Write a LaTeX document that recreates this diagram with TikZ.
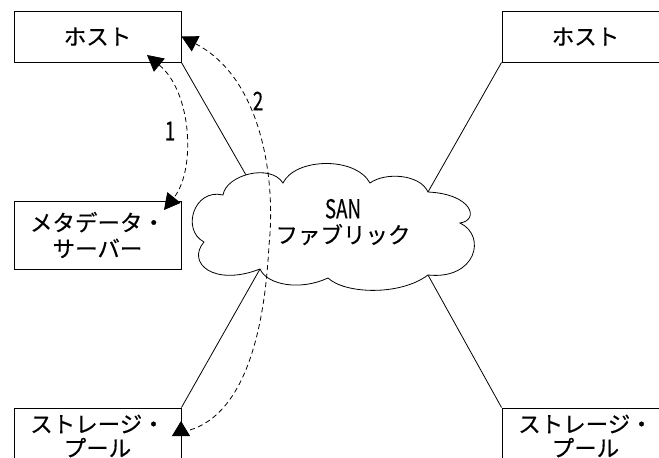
\documentclass[tikz,border=0pt]{standalone}
\usepackage{fontspec}
\setmainfont{Noto Sans CJK JP}[FakeBold=0.4]
\usetikzlibrary{arrows.meta}

\tikzset{
  box/.style={draw, line width=0.9pt, minimum width=167pt, inner sep=0pt,
              align=center, font=\fontsize{22.5}{25}\selectfont},
  link/.style={line width=0.8pt},
  msg/.style={line width=0.8pt, dash pattern=on 5pt off 3.5pt},
  head/.style={line width=0.8pt, solid},
  num/.style={font=\fontsize{26}{26}\selectfont},
}
\newcommand{\narrow}[1]{\scalebox{0.72}[1]{#1}}

\begin{document}
\begin{tikzpicture}[x=1pt, y=-1pt]
  \useasboundingbox (0,0) rectangle (659,458);
  \clip (0,0) rectangle (659,458);

  % hosts, metadata server and storage pools
  \node[box, minimum height=51pt] (h1) at (97.5,36.5) {ホスト};
  \node[box, minimum height=51pt] (h2) at (585.5,36.5) {ホスト};
  \node[box, minimum height=68pt, font=\fontsize{22.5}{26}\selectfont]
    (md) at (97.5,235) {メタデータ・\\サーバー};
  \node[box, minimum height=56pt, font=\fontsize{22.5}{24}\selectfont]
    (s1) at (97.5,436) {ストレージ・\\プール};
  \node[box, minimum height=56pt, font=\fontsize{22.5}{24}\selectfont]
    (s2) at (585.5,436) {ストレージ・\\プール};

  % cusps of the fabric cloud
  \coordinate (cA) at (223,195);
  \coordinate (cB) at (283,183);
  \coordinate (cE) at (370,183);
  \coordinate (cF) at (428,192);
  \coordinate (cG) at (460,223);
  \coordinate (cH) at (428,275);
  \coordinate (cI) at (328,278);
  \coordinate (cD) at (260,269);
  \coordinate (cC) at (204,242);
  \coordinate (cT) at (246,175);

  \draw[link, fill=white]
    (cA) .. controls (226,175) and (270,163) .. (cB)
         .. controls (295,158) and (355,156) .. (cE)
         .. controls (385,172) and (420,174) .. (cF)
         .. controls (472,194) and (480,220) .. (cG)
         .. controls (487,236) and (476,280) .. (cH)
         .. controls (400,296) and (345,294) .. (cI)
         .. controls (300,291) and (267,285) .. (cD)
         .. controls (214,287) and (186,263) .. (cC)
         .. controls (181,230) and (194,188) .. cycle;

  \node[align=center, font=\fontsize{22.5}{25}\selectfont] (san) at (343,222)
    {\fontsize{26}{26}\selectfont\narrow{SAN}\\ファブリック};

  % links into the fabric
  \draw[link] (h1.south east) -- (cT);
  \draw[link] (h2.south west) -- (cF);
  \draw[link] (s1.north east) -- (cD);
  \draw[link] (s2.north west) -- (cH);

  % metadata exchange (1)
  \coordinate (a1) at (147,55);
  \coordinate (a2) at (164,210);
  \draw[msg, {Triangle[length=16pt, width=17pt]}-{Triangle[length=16pt, width=17pt]}]
    (a1) .. controls (192,92) and (196,170) .. (a2);
  \node[num] (n1) at (170,131) {\narrow{1}};

  % data path (2)
  \coordinate (b2) at (190,430);
  \coordinate (t2) at (181,421);
  \draw[msg, {Triangle[length=16pt, width=17pt]}-]
    (h1.east) .. controls (262,78) and (276,180) .. (269,245)
              .. controls (263,362) and (232,417) .. (b2);
  \draw[head, -{Triangle[length=15pt, width=18pt]}] (181,437) -- (t2);
  \node[num] (n2) at (258,101) {\narrow{2}};
\end{tikzpicture}
\end{document}
